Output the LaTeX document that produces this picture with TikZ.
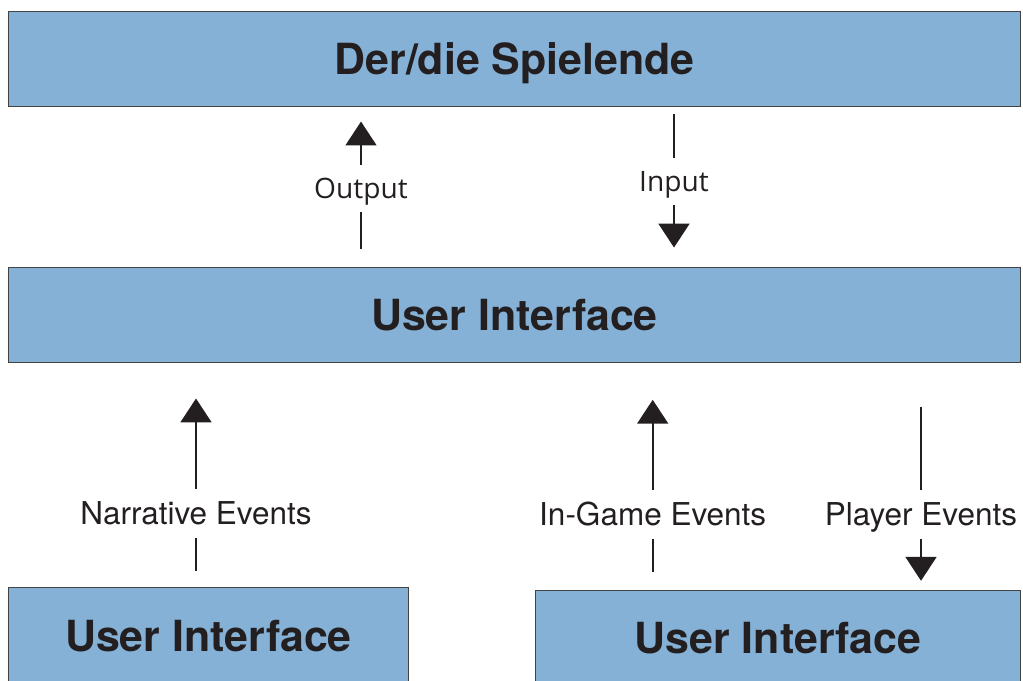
\documentclass[tikz,border=0pt]{standalone}
\usepackage{fontspec}
\setmainfont{TeX Gyre Heros}
\newfontfamily\ioFont{Open Sans}
\usetikzlibrary{arrows.meta}
\definecolor{boxblue}{HTML}{85B1D6}
\definecolor{ink}{HTML}{231F20}

\begin{document}
\begin{tikzpicture}[x=0.025cm, y=-0.025cm,
		box/.style={draw=ink!85, line width=0.7pt, fill=boxblue, inner sep=0pt, text=ink, text depth=0pt, font=\bfseries\fontsize{30.5}{36}\selectfont},
		widebox/.style={box, minimum width=25.275cm, minimum height=2.375cm},
		lbl/.style={anchor=base, inner xsep=2pt, inner ysep=9.5pt, text=ink, text height=16pt, text depth=0pt, font=\fontsize{22.4}{26}\selectfont},
		iolbl/.style={lbl, text height=14pt, font=\ioFont\fontsize{20}{24}\selectfont},
		wire/.style={draw=ink, line width=1.4pt},
		flow/.style={wire, -{Triangle[width=22pt,length=17pt]}}]
		\path[use as bounding box, clip] (0,0) rectangle (1023,680);

		% boxes
		\node[widebox] (player) at (514.5,58.5) {Der/die Spielende};
		\node[widebox] (ui) at (514.5,314.5) {User Interface};
		\node[box, minimum width=9.975cm, minimum height=2.45cm] (uiLeft) at (208.5,636) {User Interface};
		\node[box, minimum width=12.1cm, minimum height=2.4cm] (uiRight) at (778,638) {User Interface};

		% labels
		\node[iolbl] (output) at (361,198) {Output};
		\node[iolbl] (input) at (674,191.5) {Input};
		\node[lbl] (narrative) at (196,524.7) {Narrative Events};
		\node[lbl] (ingame) at (652.7,525.7) {In-Game Events};
		\node[lbl] (playerev) at (921,525.7) {Player Events};

		% connectors
		\draw[wire, shorten <=12.8pt] (ui.north -| output) -- (output);
		\draw[flow, shorten >=10.7pt] (output) -- (player.south -| output);

		\draw[wire, shorten <=5pt] (player.south -| input) -- (input);
		\draw[flow, shorten >=13.5pt] (input) -- (ui.north -| input);

		\draw[wire, shorten <=10.9pt] (uiLeft.north -| narrative) -- (narrative);
		\draw[flow, shorten >=25.6pt] (narrative) -- (ui.south -| narrative);

		\draw[wire, shorten <=12.6pt] (uiRight.north -| ingame) -- (ingame);
		\draw[flow, shorten >=26.5pt] (ingame) -- (ui.south -| ingame);

		\draw[wire, shorten <=31.3pt] (ui.south -| playerev) -- (playerev);
		\draw[flow, shorten >=6.2pt] (playerev) -- (uiRight.north -| playerev);
	\end{tikzpicture}
\end{document}
